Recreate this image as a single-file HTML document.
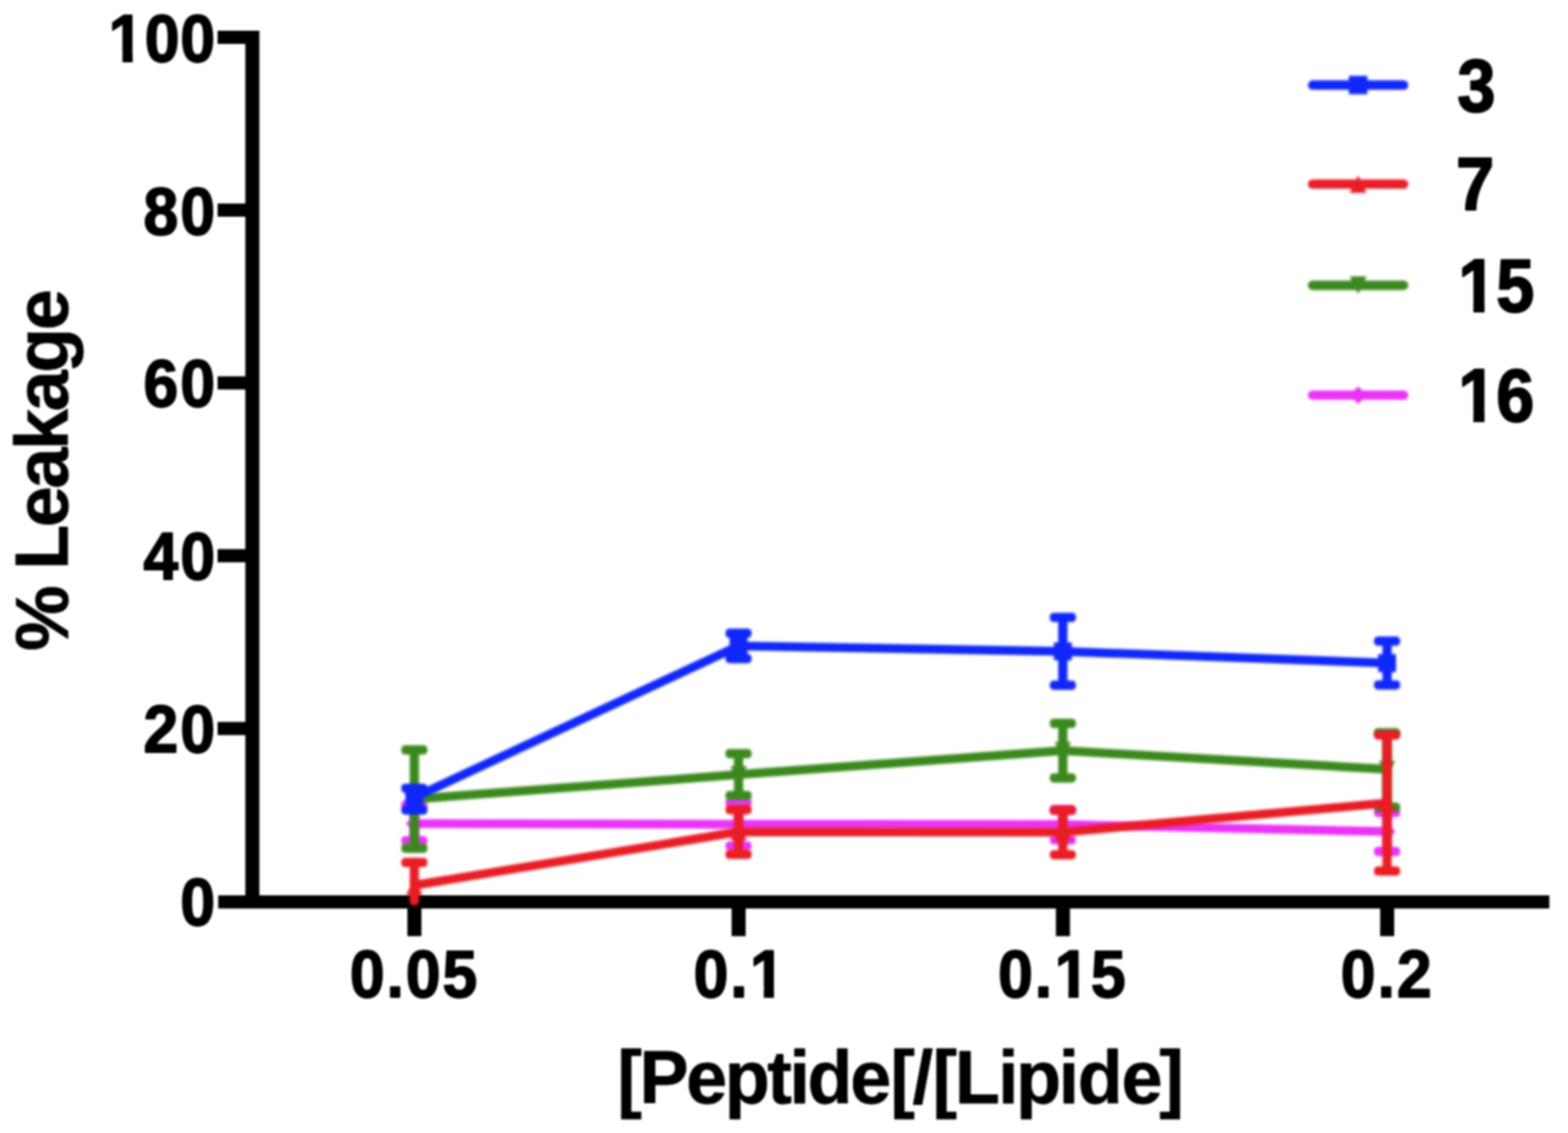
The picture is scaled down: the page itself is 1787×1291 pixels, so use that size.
<!DOCTYPE html>
<html lang="en">
<head>
<meta charset="utf-8">
<title>% Leakage vs [Peptide]/[Lipide]</title>
<style>
html,body{margin:0;padding:0;background:#fff;}
body{width:1787px;height:1291px;overflow:hidden;}
svg{display:block;filter:blur(1.3px);}
.soft{filter:blur(0.9px);}
text{font-family:"Liberation Sans",Arial,Helvetica,sans-serif;font-weight:bold;fill:#000;stroke:#000;stroke-linejoin:round;white-space:pre;}
.tick{font-size:75px;stroke-width:1.8px;}
.title{font-size:84px;stroke-width:0.8px;}
.leg{font-size:83px;stroke-width:2.0px;}
</style>
</head>
<body>
<svg width="1787" height="1291" viewBox="0 0 1787 1291">
<rect x="-10" y="-10" width="1807" height="1311" fill="#ffffff"/>
<g id="chart">

<g id="ylabels">
<text class="tick" transform="translate(0 69.6) scale(0.95 1.022)" x="130.39 173.77 216.21">100</text>
<rect x="125.86" y="59.38" width="13.71" height="11.92" fill="#fff"/>
<rect x="151.21" y="59.38" width="12.79" height="11.92" fill="#fff"/>
<text class="tick" transform="translate(0 266.5) scale(0.95 1.022)" x="172.20 216.21">80</text>
<text class="tick" transform="translate(0 463.4) scale(0.95 1.022)" x="172.20 216.21">60</text>
<text class="tick" transform="translate(0 660.3) scale(0.95 1.022)" x="172.20 216.21">40</text>
<text class="tick" transform="translate(0 857.2) scale(0.95 1.022)" x="172.20 216.21">20</text>
<text class="tick" transform="translate(0 1054.1) scale(0.95 1.022)" x="216.21">0</text>
</g>
<g id="xlabels">
<text class="tick" transform="translate(0 1135.6) scale(0.95 1.022)" x="419.76 463.77 486.91 530.92">0.05</text>
<text class="tick" transform="translate(0 1135.6) scale(0.95 1.022)" x="831.98 875.99 899.76">0.1</text>
<rect x="856.76" y="1125.38" width="13.71" height="11.92" fill="#fff"/>
<rect x="882.10" y="1125.38" width="12.79" height="11.92" fill="#fff"/>
<text class="tick" transform="translate(0 1135.6) scale(0.95 1.022)" x="1197.44 1241.45 1265.22 1308.60">0.15</text>
<rect x="1203.95" y="1125.38" width="13.71" height="11.92" fill="#fff"/>
<rect x="1229.29" y="1125.38" width="12.79" height="11.92" fill="#fff"/>
<text class="tick" transform="translate(0 1135.6) scale(0.95 1.022)" x="1608.54 1652.55 1675.68">0.2</text>
</g>
<text class="title" transform="translate(0 1256.6) scale(1.0 1.01)" x="703.48 728.71 781.98 825.95 874.51 899.73 920.32 968.88 1014.85 1040.07 1062.66 1088.38 1137.44 1158.03 1206.59 1228.18 1278.24 1321.21">[Peptide[/[Lipide]</text>
<text class="title" transform="translate(77.3 536.0) rotate(-90) scale(1.0 1.01)" x="-205.73 -133.79 -113.20 -64.64 -20.67 23.29 67.26 111.23 159.79">% Leakage</text>
<g id="axes" fill="#000">
<rect x="279.6" y="35" width="16" height="998.5"/>
<rect x="248.7" y="1020.2" width="1517.0" height="15"/>
<rect x="248" y="35.0" width="40" height="15"/>
<rect x="248" y="231.9" width="40" height="15"/>
<rect x="248" y="428.8" width="40" height="15"/>
<rect x="248" y="625.7" width="40" height="15"/>
<rect x="248" y="822.6" width="40" height="15"/>
<rect x="464.3" y="1025" width="16" height="41.7"/>
<rect x="833.8" y="1025" width="16" height="41.7"/>
<rect x="1203.4" y="1025" width="16" height="41.7"/>
<rect x="1572.9" y="1025" width="16" height="41.7"/>
</g>
<g id="s-mag" class="soft">
<polyline points="472.2,938.5 841.7,939.2 1211.3,939.5 1580.8,947.6" fill="none" stroke="#ea33f7" stroke-width="10.0" stroke-linejoin="round" stroke-linecap="round"/>
<line x1="472.2" y1="917" x2="472.2" y2="958" stroke="#ea33f7" stroke-width="10.5"/>
<rect x="457.3" y="911.75" width="29.8" height="10.5" rx="4.5" fill="#ea33f7"/>
<rect x="457.3" y="952.75" width="29.8" height="10.5" rx="4.5" fill="#ea33f7"/>
<line x1="841.7" y1="914.6" x2="841.7" y2="963.9" stroke="#ea33f7" stroke-width="10.5"/>
<rect x="826.8" y="909.35" width="29.8" height="10.5" rx="4.5" fill="#ea33f7"/>
<rect x="826.8" y="958.65" width="29.8" height="10.5" rx="4.5" fill="#ea33f7"/>
<line x1="1211.3" y1="923.1" x2="1211.3" y2="957" stroke="#ea33f7" stroke-width="10.5"/>
<rect x="1196.4" y="917.85" width="29.8" height="10.5" rx="4.5" fill="#ea33f7"/>
<rect x="1196.4" y="951.75" width="29.8" height="10.5" rx="4.5" fill="#ea33f7"/>
<line x1="1580.8" y1="925.8" x2="1580.8" y2="970.3" stroke="#ea33f7" stroke-width="10.5"/>
<rect x="1565.9" y="920.55" width="29.8" height="10.5" rx="4.5" fill="#ea33f7"/>
<rect x="1565.9" y="965.05" width="29.8" height="10.5" rx="4.5" fill="#ea33f7"/>
<polygon points="472.2,928.8 481.9,938.5 472.2,948.2 462.5,938.5" fill="#ea33f7"/>
<polygon points="841.7,929.5 851.4,939.2 841.7,948.9 832.0,939.2" fill="#ea33f7"/>
<polygon points="1211.3,929.8 1221.0,939.5 1211.3,949.2 1201.6,939.5" fill="#ea33f7"/>
<polygon points="1580.8,937.9 1590.5,947.6 1580.8,957.3 1571.1,947.6" fill="#ea33f7"/>
</g>
<g id="s-green" class="soft">
<polyline points="472.2,910.5 841.7,882.6 1211.3,855.3 1580.8,876.6" fill="none" stroke="#3a891d" stroke-width="10.0" stroke-linejoin="round" stroke-linecap="round"/>
<line x1="472.2" y1="854.5" x2="472.2" y2="966.5" stroke="#3a891d" stroke-width="10.5"/>
<rect x="457.3" y="849.25" width="29.8" height="10.5" rx="4.5" fill="#3a891d"/>
<rect x="457.3" y="961.25" width="29.8" height="10.5" rx="4.5" fill="#3a891d"/>
<line x1="841.7" y1="858.8" x2="841.7" y2="906.5" stroke="#3a891d" stroke-width="10.5"/>
<rect x="826.8" y="853.55" width="29.8" height="10.5" rx="4.5" fill="#3a891d"/>
<rect x="826.8" y="901.25" width="29.8" height="10.5" rx="4.5" fill="#3a891d"/>
<line x1="1211.3" y1="824.3" x2="1211.3" y2="886.4" stroke="#3a891d" stroke-width="10.5"/>
<rect x="1196.4" y="819.05" width="29.8" height="10.5" rx="4.5" fill="#3a891d"/>
<rect x="1196.4" y="881.15" width="29.8" height="10.5" rx="4.5" fill="#3a891d"/>
<line x1="1580.8" y1="835" x2="1580.8" y2="919.8" stroke="#3a891d" stroke-width="10.5"/>
<rect x="1565.9" y="829.75" width="29.8" height="10.5" rx="4.5" fill="#3a891d"/>
<rect x="1565.9" y="914.55" width="29.8" height="10.5" rx="4.5" fill="#3a891d"/>
<polygon points="472.2,920.2 481.4,900.8 463.0,900.8" fill="#3a891d"/>
<polygon points="841.7,892.3 850.9,872.9 832.5,872.9" fill="#3a891d"/>
<polygon points="1211.3,865.0 1220.5,845.6 1202.1,845.6" fill="#3a891d"/>
<polygon points="1580.8,886.3 1590.0,866.9 1571.6,866.9" fill="#3a891d"/>
</g>
<g id="s-red" class="soft">
<polyline points="472.2,1008.7 841.7,947.8 1211.3,948.2 1580.8,915.0" fill="none" stroke="#e91d25" stroke-width="10.0" stroke-linejoin="round" stroke-linecap="round"/>
<line x1="472.2" y1="982.7" x2="472.2" y2="1026.5" stroke="#e91d25" stroke-width="10.5" stroke-linecap="round"/>
<rect x="457.3" y="977.45" width="29.8" height="10.5" rx="4.5" fill="#e91d25"/>
<line x1="841.7" y1="922.5" x2="841.7" y2="973.5" stroke="#e91d25" stroke-width="10.5"/>
<rect x="826.8" y="917.25" width="29.8" height="10.5" rx="4.5" fill="#e91d25"/>
<rect x="826.8" y="968.25" width="29.8" height="10.5" rx="4.5" fill="#e91d25"/>
<line x1="1211.3" y1="923.1" x2="1211.3" y2="973.9" stroke="#e91d25" stroke-width="10.5"/>
<rect x="1196.4" y="917.85" width="29.8" height="10.5" rx="4.5" fill="#e91d25"/>
<rect x="1196.4" y="968.65" width="29.8" height="10.5" rx="4.5" fill="#e91d25"/>
<line x1="1580.8" y1="837.5" x2="1580.8" y2="992.5" stroke="#e91d25" stroke-width="10.5"/>
<rect x="1565.9" y="832.25" width="29.8" height="10.5" rx="4.5" fill="#e91d25"/>
<rect x="1565.9" y="987.25" width="29.8" height="10.5" rx="4.5" fill="#e91d25"/>
<polygon points="472.2,1000.3 481.4,1019.7 463.0,1019.7" fill="#e91d25"/>
<polygon points="841.7,938.1 850.9,957.5 832.5,957.5" fill="#e91d25"/>
<polygon points="1211.3,938.5 1220.5,957.9 1202.1,957.9" fill="#e91d25"/>
<polygon points="1580.8,905.3 1590.0,924.7 1571.6,924.7" fill="#e91d25"/>
</g>
<g id="s-blue" class="soft">
<polyline points="472.2,908.8 841.7,736.0 1211.3,742.2 1580.8,755.6" fill="none" stroke="#1027fa" stroke-width="10.0" stroke-linejoin="round" stroke-linecap="round"/>
<line x1="472.2" y1="898.2" x2="472.2" y2="923" stroke="#1027fa" stroke-width="10.5"/>
<rect x="457.3" y="892.95" width="29.8" height="10.5" rx="4.5" fill="#1027fa"/>
<rect x="457.3" y="917.75" width="29.8" height="10.5" rx="4.5" fill="#1027fa"/>
<line x1="841.7" y1="721.6" x2="841.7" y2="750.4" stroke="#1027fa" stroke-width="10.5"/>
<rect x="826.8" y="716.35" width="29.8" height="10.5" rx="4.5" fill="#1027fa"/>
<rect x="826.8" y="745.15" width="29.8" height="10.5" rx="4.5" fill="#1027fa"/>
<line x1="1211.3" y1="703.5" x2="1211.3" y2="780.7" stroke="#1027fa" stroke-width="10.5"/>
<rect x="1196.4" y="698.25" width="29.8" height="10.5" rx="4.5" fill="#1027fa"/>
<rect x="1196.4" y="775.45" width="29.8" height="10.5" rx="4.5" fill="#1027fa"/>
<line x1="1580.8" y1="730.6" x2="1580.8" y2="780.4" stroke="#1027fa" stroke-width="10.5"/>
<rect x="1565.9" y="725.35" width="29.8" height="10.5" rx="4.5" fill="#1027fa"/>
<rect x="1565.9" y="775.15" width="29.8" height="10.5" rx="4.5" fill="#1027fa"/>
<rect x="462.0" y="898.6" width="20.4" height="20.4" fill="#1027fa"/>
<rect x="831.5" y="725.8" width="20.4" height="20.4" fill="#1027fa"/>
<rect x="1201.1" y="732.0" width="20.4" height="20.4" fill="#1027fa"/>
<rect x="1570.6" y="745.4" width="20.4" height="20.4" fill="#1027fa"/>
</g>
<g id="legend-keys" class="soft">
<rect x="1490.6" y="91.6" width="114.4" height="10.6" rx="5.3" fill="#1027fa"/>
<rect x="1537.3" y="86.4" width="21.0" height="21.0" fill="#1027fa"/>
<rect x="1490.6" y="204.4" width="114.4" height="10.6" rx="5.3" fill="#e91d25"/>
<polygon points="1547.8,199.7 1557.3,219.7 1538.3,219.7" fill="#e91d25"/>
<rect x="1490.6" y="319.8" width="114.4" height="10.6" rx="5.3" fill="#3a891d"/>
<polygon points="1547.8,335.1 1557.3,315.1 1538.3,315.1" fill="#3a891d"/>
<rect x="1490.6" y="444.9" width="114.4" height="10.6" rx="5.3" fill="#ea33f7"/>
<polygon points="1547.8,440.2 1557.8,450.2 1547.8,460.2 1537.8,450.2" fill="#ea33f7"/>
</g>
<g id="legend-labels">
<text class="leg" transform="translate(0 127.4) scale(0.938 1.02)" x="1770.80">3</text>
<text class="leg" transform="translate(0 239.1) scale(0.938 1.02)" x="1769.14">7</text>
<text class="leg" transform="translate(0 355.3) scale(0.938 1.02)" x="1771.86 1818.10">15</text>
<rect x="1664.31" y="344.16" width="14.84" height="12.94" fill="#fff"/>
<rect x="1691.89" y="344.16" width="13.82" height="12.94" fill="#fff"/>
<text class="leg" transform="translate(0 479.8) scale(0.938 1.02)" x="1771.86 1818.10">16</text>
<rect x="1664.31" y="468.66" width="14.84" height="12.94" fill="#fff"/>
<rect x="1691.89" y="468.66" width="13.82" height="12.94" fill="#fff"/>
</g>
</g>
</svg>
</body>
</html>
